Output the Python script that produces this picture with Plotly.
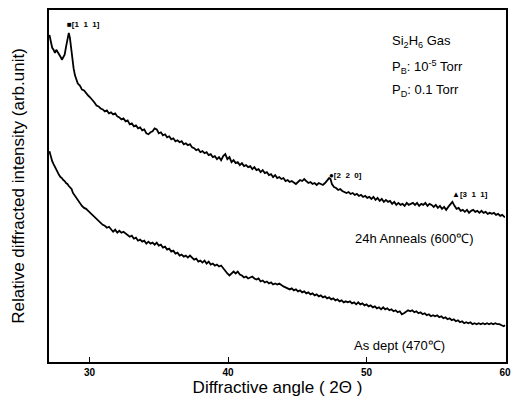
import plotly.graph_objects as go

# ---- data: 2-theta (deg) vs relative intensity (arb. unit) ----
anneal_x = [27.10,27.20,27.30,27.40,27.50,27.60,27.70,27.80,27.90,28.00,28.10,28.20,28.30,28.40,28.50,28.58,28.66,28.75,28.85,28.95,
29.05,29.15,29.30,29.45,29.60,29.75,29.90,30.05,30.20,30.35,30.50,30.65,30.80,30.95,31.10,31.25,31.40,31.55,31.70,31.85,
32.00,32.15,32.30,32.45,32.60,32.75,32.90,33.05,33.20,33.35,33.50,33.65,33.80,33.95,34.10,34.25,34.40,34.55,34.70,34.85,
35.00,35.15,35.30,35.45,35.60,35.75,35.90,36.05,36.20,36.35,36.50,36.65,36.80,36.95,37.10,37.25,37.40,37.55,37.70,37.85,
38.00,38.15,38.30,38.45,38.60,38.75,38.90,39.05,39.20,39.35,39.50,39.65,39.80,39.95,40.10,40.25,40.40,40.55,40.70,40.85,
41.00,41.15,41.30,41.45,41.60,41.75,41.90,42.05,42.20,42.35,42.50,42.65,42.80,42.95,43.10,43.25,43.40,43.55,43.70,43.85,
44.00,44.15,44.30,44.45,44.60,44.75,44.90,45.05,45.20,45.35,45.50,45.65,45.80,45.95,46.10,46.25,46.40,46.55,46.70,46.85,
47.00,47.15,47.30,47.40,47.50,47.65,47.80,47.95,48.10,48.25,48.40,48.55,48.70,48.85,49.00,49.15,49.30,49.45,49.60,49.75,
49.90,50.05,50.20,50.35,50.50,50.65,50.80,50.95,51.10,51.25,51.40,51.55,51.70,51.85,52.00,52.15,52.30,52.45,52.60,52.75,
52.90,53.05,53.20,53.35,53.50,53.65,53.80,53.95,54.10,54.25,54.40,54.55,54.70,54.85,55.00,55.15,55.30,55.45,55.60,55.75,
55.90,56.05,56.20,56.35,56.50,56.65,56.80,56.95,57.10,57.25,57.40,57.55,57.70,57.85,58.00,58.15,58.30,58.45,58.60,58.75,
58.90,59.05,59.20,59.35,59.50,59.65,59.80,59.95,60.00]
anneal_y = [329,322,316,314,311,314,312,309,307,304,307,309,317,325,331,326,316,305,295,288,
284,280,278,274,273,270,268,266,264,261,258,257,255,254,252,253,250,251,249,250,
247,246,244,245,242,243,239,240,237,238,235,236,233,234,230,229,231,232,235,234,
230,231,228,229,226,227,224,225,222,223,221,222,219,220,218,219,216,215,213,214,
211,212,210,211,208,209,206,207,204,206,203,207,209,204,206,201,203,200,201,198,
200,197,198,196,197,194,196,193,194,191,193,190,191,188,189,186,188,185,186,184,
185,182,183,181,182,180,179,181,183,182,184,182,180,181,179,180,178,180,179,178,
180,182,185,184,179,176,175,173,174,172,171,170,171,169,170,168,169,167,168,166,
167,165,166,164,166,163,165,162,164,161,163,161,162,159,161,158,160,158,159,157,
160,158,159,160,158,160,157,159,158,160,157,159,158,156,158,155,157,154,156,153,
156,158,161,157,154,155,152,153,151,153,150,152,153,151,152,150,152,150,151,149,
150,149,150,148,149,147,148,146,146]

asdep_x = [27.10,27.20,27.30,27.40,27.50,27.60,27.70,27.80,27.90,28.00,28.10,28.20,28.30,28.40,28.50,28.60,28.70,28.80,28.90,29.00,
29.10,29.20,29.30,29.45,29.60,29.75,29.90,30.05,30.20,30.35,30.50,30.65,30.80,30.95,31.10,31.25,31.40,31.55,31.70,31.85,
32.00,32.15,32.30,32.45,32.60,32.75,32.90,33.05,33.20,33.35,33.50,33.65,33.80,33.95,34.10,34.25,34.40,34.55,34.70,34.85,
35.00,35.15,35.30,35.45,35.60,35.75,35.90,36.05,36.20,36.35,36.50,36.65,36.80,36.95,37.10,37.25,37.40,37.55,37.70,37.85,
38.00,38.15,38.30,38.45,38.60,38.75,38.90,39.05,39.20,39.35,39.50,39.65,39.80,39.95,40.10,40.25,40.40,40.55,40.70,40.85,
41.00,41.15,41.30,41.45,41.60,41.75,41.90,42.05,42.20,42.35,42.50,42.65,42.80,42.95,43.10,43.25,43.40,43.55,43.70,43.85,
44.00,44.15,44.30,44.45,44.60,44.75,44.90,45.05,45.20,45.35,45.50,45.65,45.80,45.95,46.10,46.25,46.40,46.55,46.70,46.85,
47.00,47.15,47.30,47.45,47.60,47.75,47.90,48.05,48.20,48.35,48.50,48.65,48.80,48.95,49.10,49.25,49.40,49.55,49.70,49.85,
50.00,50.15,50.30,50.45,50.60,50.75,50.90,51.05,51.20,51.35,51.50,51.65,51.80,51.95,52.10,52.25,52.40,52.55,52.70,52.85,
53.00,53.15,53.30,53.45,53.60,53.75,53.90,54.05,54.20,54.35,54.50,54.65,54.80,54.95,55.10,55.25,55.40,55.55,55.70,55.85,
56.00,56.15,56.30,56.45,56.60,56.75,56.90,57.05,57.20,57.35,57.50,57.65,57.80,57.95,58.10,58.25,58.40,58.55,58.70,58.85,
59.00,59.15,59.30,59.45,59.60,59.75,59.90,60.00]
asdep_y = [212,206,202,199,196,193,190,188,186,185,183,182,180,179,177,175,174,170,168,166,
163,161,160,157,155,154,152,150,148,145,143,141,140,138,137,135,136,133,131,133,
130,132,130,131,129,128,126,127,124,125,122,123,121,122,119,121,119,120,118,120,
117,118,115,116,113,114,111,112,109,110,107,108,106,107,105,107,105,103,104,101,
102,100,102,99,101,98,99,97,98,96,97,94,92,89,87,89,91,89,91,88,
87,85,86,84,85,86,84,83,84,81,82,80,81,79,80,78,79,78,79,77,
76,75,74,73,74,72,73,71,72,70,71,69,70,68,69,67,68,66,67,65,
66,64,65,63,64,62,63,61,62,60,61,60,61,59,60,58,60,58,59,57,
58,56,57,55,56,54,55,53,55,53,54,52,53,51,52,50,51,48,49,51,
52,51,52,50,51,49,50,48,49,47,48,46,47,46,47,45,46,44,45,43,
44,42,43,41,42,40,41,39,40,39,40,38,39,38,39,38,39,38,39,38,
39,38,39,38,38,37,36,37]

tick_vals = [30, 40, 50, 60]
tick_text = ["<b>30</b>", "<b>40</b>", "<b>50</b>", "<b>60</b>"]

FONT = "Arial, Liberation Sans, sans-serif"

fig = go.Figure()
fig.add_trace(go.Scatter(x=anneal_x, y=anneal_y, mode="lines",
                         line=dict(color="black", width=1.8), showlegend=False))
fig.add_trace(go.Scatter(x=asdep_x, y=asdep_y, mode="lines",
                         line=dict(color="black", width=1.8), showlegend=False))

def note(x, y, text, size):
    fig.add_annotation(x=x, y=y, xref="x", yref="y", text=text, showarrow=False,
                       xanchor="left", yanchor="middle",
                       font=dict(family=FONT, size=size, color="black"))

note(28.25, 339, "<b>■[1  1  1]</b>", 8)
note(47.15, 188, "<b>●[2  2  0]</b>", 8)
note(56.05, 168, "<b>▲[3  1  1]</b>", 8)
note(51.7, 322, "Si<sub>2</sub>H<sub>6</sub> Gas", 13)
note(51.7, 297, "P<sub>B</sub>: 10<sup>-5</sup> Torr", 13)
note(51.7, 273, "P<sub>D</sub>: 0.1 Torr", 13)
note(49.0, 124, "24h Anneals (600℃)", 13)
note(48.95, 17, "As dept (470℃)", 13)

fig.update_layout(
    width=519, height=404,
    margin=dict(l=49, r=8, t=8, b=42),
    paper_bgcolor="white", plot_bgcolor="white",
    xaxis=dict(range=[27.07, 60.07], tickvals=tick_vals, ticktext=tick_text,
               ticks="inside", ticklen=5, tickwidth=1.2, tickcolor="black",
               showline=True, linecolor="black", linewidth=1.5, mirror=True,
               showgrid=False, zeroline=False,
               tickfont=dict(family=FONT, size=10, color="black"),
               title=dict(text="Diffractive angle ( 2Θ )", standoff=4,
                          font=dict(family=FONT, size=17, color="black"))),
    yaxis=dict(range=[0, 354], showticklabels=False, ticks="",
               showline=True, linecolor="black", linewidth=1.5, mirror=True,
               showgrid=False, zeroline=False,
               title=dict(text="Relative diffracted intensity (arb.unit)", standoff=18,
                          font=dict(family=FONT, size=17, color="black"))),
)

fig.write_html("out.html")
